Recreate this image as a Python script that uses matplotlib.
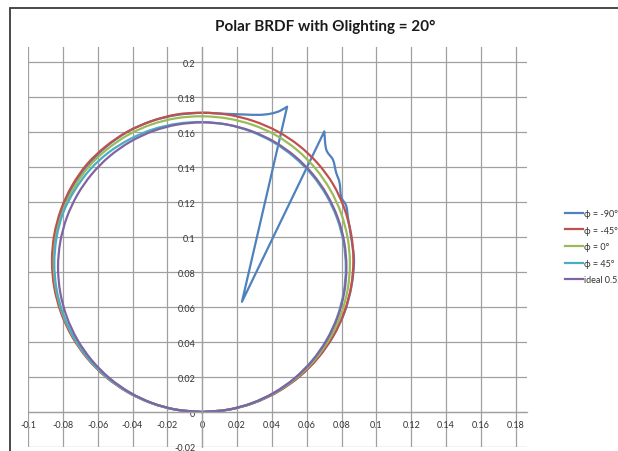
import numpy as np
import matplotlib.pyplot as plt
from matplotlib.patches import Rectangle, PathPatch
from matplotlib.path import Path
from matplotlib.lines import Line2D
from matplotlib.ticker import MultipleLocator, FuncFormatter

plt.rcParams['font.family'] = ['Lato', 'DejaVu Sans']

# viewing angle (deg) and BRDF radius
theta = [-90, -85, -80, -75, -70, -65, -60, -55, -50, -45, -40, -35, -30, -25, -20, -15, -10, -5,
         0, 5, 10, 15, 20, 25, 30, 35, 40, 45, 50, 55, 60, 65, 70, 75, 80, 85, 90]

r_m45 = [0, 0.01504, 0.02995, 0.04464, 0.05900, 0.07290, 0.08625, 0.09895, 0.11088, 0.12197,
         0.13214, 0.14131, 0.14939, 0.15634, 0.16163, 0.16585, 0.16870, 0.17065,
         0.1710, 0.17055, 0.16889, 0.16613, 0.16210, 0.15679, 0.15025, 0.14213, 0.13290,
         0.12268, 0.11153, 0.09952, 0.08675, 0.07332, 0.05934, 0.04490, 0.03012, 0.01513, 0]
r_0 = [0, 0.01487, 0.02960, 0.04413, 0.05831, 0.07205, 0.08525, 0.09780, 0.10960, 0.12056,
       0.13060, 0.13967, 0.14765, 0.15452, 0.15975, 0.16401, 0.16692, 0.16856,
       0.1690, 0.16836, 0.16663, 0.16372, 0.15928, 0.15362, 0.14679, 0.13885, 0.12984,
       0.11985, 0.10895, 0.09723, 0.08475, 0.07163, 0.05797, 0.04387, 0.02943, 0.01478, 0]
r_p45 = [0, 0.01481, 0.02948, 0.04394, 0.05807, 0.07176, 0.08490, 0.09740, 0.10915, 0.12007,
         0.13007, 0.13910, 0.14635, 0.15271, 0.15768, 0.16131, 0.16397, 0.16537,
         0.1657, 0.16487, 0.16269, 0.15937, 0.15486, 0.14936, 0.14272, 0.13500, 0.12624,
         0.11653, 0.10593, 0.09453, 0.08240, 0.06964, 0.05636, 0.04265, 0.02861, 0.01437, 0]
r_ideal = [0, 0.01443, 0.02874, 0.04283, 0.05660, 0.06994, 0.08275, 0.09493, 0.10638, 0.11703,
           0.12678, 0.13557, 0.14333, 0.15000, 0.15552, 0.15986, 0.16299, 0.16487,
           0.16550, 0.16487, 0.16299, 0.15986, 0.15552, 0.15000, 0.14333, 0.13557, 0.12678,
           0.11703, 0.10638, 0.09493, 0.08275, 0.06994, 0.05660, 0.04283, 0.02874, 0.01443, 0]

# phi = -90 has its own sampling around the dip near 20 deg
theta_m90 = [-90, -85, -80, -75, -70, -65, -60, -55, -50, -45, -40, -35, -30, -25, -20, -15, -10, -5,
             0, 4, 8, 11, 13, 14.5, 15.6, 19.9, 23.6, 25.4, 27.5, 29.3, 31, 33, 35, 37, 40,
             45, 50, 55, 60, 65, 70, 75, 80, 85, 90]
r_m90 = [0, 0.01496, 0.02979, 0.04441, 0.05869, 0.07252, 0.08580, 0.09843, 0.11030, 0.12134,
         0.13145, 0.14057, 0.14861, 0.15552, 0.16125, 0.16575, 0.16876, 0.17035,
         0.1710, 0.1709, 0.1717, 0.1730, 0.1750, 0.1777, 0.1812, 0.0670, 0.1750, 0.1660,
         0.1625, 0.1570, 0.1530, 0.1465, 0.1440, 0.1390, 0.1325,
         0.1232, 0.1118, 0.0998, 0.0868, 0.0733, 0.0593, 0.0449, 0.0301, 0.0151, 0]
corners_m90 = [15.6, 19.9, 23.6]

series = [
    ("ϕ = -90°", theta_m90, r_m90, "#4F81BD", corners_m90),
    ("ϕ = -45°", theta, r_m45, "#C0504D", []),
    ("ϕ = 0°", theta, r_0, "#9BBB59", []),
    ("ϕ = 45°", theta, r_p45, "#4BACC6", []),
    ("ideal 0.52", theta, r_ideal, "#8064A2", []),
]


def smooth_path(th, r, corners):
    # excel-like smoothed line: catmull-rom segments as cubic beziers
    t = np.radians(th)
    r = np.asarray(r)
    pts = np.column_stack([r * np.sin(t), r * np.cos(t)])
    sharp = {i for i, a in enumerate(th) if a in corners}
    n = len(pts)
    verts, codes = [pts[0]], [Path.MOVETO]
    for i in range(n - 1):
        prev = pts[i] if (i == 0 or i in sharp) else pts[i - 1]
        nxt = pts[i + 1] if (i + 1 == n - 1 or i + 1 in sharp) else pts[i + 2]
        c1 = pts[i] + (pts[i + 1] - prev) / 6
        c2 = pts[i + 1] - (nxt - pts[i]) / 6
        verts += [c1, c2, pts[i + 1]]
        codes += [Path.CURVE4] * 3
    return Path(verts, codes)


fig = plt.figure(figsize=(6.18, 4.52), dpi=100)
ax = fig.add_axes([28 / 618, 1 - 448 / 452, 499 / 618, 400 / 452])

handles = []
for label, th, r, color, corners in series:
    ax.add_patch(PathPatch(smooth_path(th, r, corners), fill=False, ec=color, lw=1.6,
                           joinstyle='round'))
    handles.append(Line2D([], [], color=color, lw=1.6, label=label))

ax.set_xlim(-0.1, 0.1864)
ax.set_ylim(-0.02, 0.2086)
ax.xaxis.set_major_locator(MultipleLocator(0.02))
ax.yaxis.set_major_locator(MultipleLocator(0.02))
fmt = FuncFormatter(lambda v, p: "0" if abs(v) < 1e-9 else "{:g}".format(round(v, 2)))
ax.xaxis.set_major_formatter(fmt)
ax.yaxis.set_major_formatter(fmt)
ax.grid(True, color="#a0a0a0", lw=0.9)
ax.set_axisbelow(True)

for s in ["top", "right"]:
    ax.spines[s].set_visible(False)
ax.spines["left"].set_position(("data", 0))
ax.spines["bottom"].set_position(("data", 0))
for s in ["left", "bottom"]:
    ax.spines[s].set_color("#a0a0a0")
    ax.spines[s].set_linewidth(0.9)
ax.tick_params(length=0, labelsize=6.5, labelcolor="#333333")
ax.tick_params(axis="x", pad=5.5)
ax.tick_params(axis="y", pad=5)

fig.text(325 / 618, 1 - 27 / 452, "Polar BRDF with Θlighting = 20°", ha="center", va="center",
         fontsize=11, fontweight="bold", color="#1a1a1a")

ax.legend(handles=handles, loc="upper left", bbox_to_anchor=(565 / 618, 1 - 210 / 452),
          bbox_transform=fig.transFigure, frameon=False, fontsize=6.5, handlelength=2.0,
          handletextpad=0.15, labelspacing=0.84, borderpad=0, borderaxespad=0,
          labelcolor="#333333")

fig.add_artist(Rectangle((10 / 618, -0.1), 1.0, 1.1 - 9 / 452, transform=fig.transFigure,
                         fill=False, ec="#3a3a3a", lw=1.3))

fig.savefig("out.png", dpi=100)
